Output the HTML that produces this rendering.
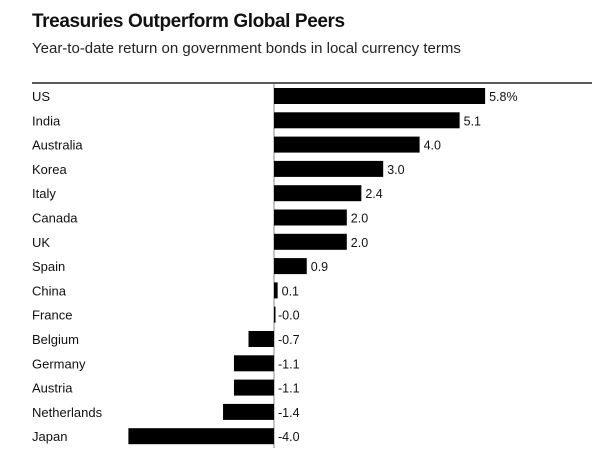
<!DOCTYPE html>
<html><head><meta charset="utf-8"><style>
body{margin:0;background:#fff;width:600px;height:460px;overflow:hidden;font-family:"Liberation Sans",sans-serif;}
</style></head><body>
<svg width="600" height="460" xmlns="http://www.w3.org/2000/svg">
<text x="32" y="27" font-size="19" font-weight="bold" fill="#111" letter-spacing="-0.4">Treasuries Outperform Global Peers</text>
<text x="32" y="53" font-size="15" fill="#222">Year-to-date return on government bonds in local currency terms</text>
<line x1="32" y1="83" x2="592" y2="83" stroke="#222" stroke-width="1.5"/>
<g id="bars"></g>
</svg>
<script>
const categories=["US","India","Australia","Korea","Italy","Canada","UK","Spain","China","France","Belgium","Germany","Austria","Netherlands","Japan"];
const values=[5.8,5.1,4.0,3.0,2.4,2.0,2.0,0.9,0.1,-0.0,-0.7,-1.1,-1.1,-1.4,-4.0];
const labels=["5.8%","5.1","4.0","3.0","2.4","2.0","2.0","0.9","0.1","-0.0","-0.7","-1.1","-1.1","-1.4","-4.0"];
const NS="http://www.w3.org/2000/svg";
const g=document.getElementById('bars');
const x0=274,unit=36.4,yTop=96,step=24.3,bh=16;
const xs=v=>x0+v*unit;
const ys=i=>yTop+i*step;
const ax=document.createElementNS(NS,'line');
ax.setAttribute('x1',x0);ax.setAttribute('x2',x0);ax.setAttribute('y1',84);ax.setAttribute('y2',448);
ax.setAttribute('stroke','#888');ax.setAttribute('stroke-width','1');


g.appendChild(ax);
categories.forEach((c,i)=>{
  const y=ys(i),v=values[i];
  const t=document.createElementNS(NS,'text');
  t.setAttribute('x',32);t.setAttribute('y',y+5);t.setAttribute('font-size','13');t.setAttribute('fill','#111');
  t.textContent=c;
  
  
  g.appendChild(t);
  const r=document.createElementNS(NS,'rect');
  const a=xs(Math.min(0,v)),b=xs(Math.max(0,v));
  r.setAttribute('x',a);r.setAttribute('y',y-bh/2);r.setAttribute('width',Math.max(b-a,1.5));r.setAttribute('height',bh);r.setAttribute('fill','#000');
  
  
  g.appendChild(r);
  const l=document.createElementNS(NS,'text');
  l.setAttribute('x',(v>0?b:x0)+4);l.setAttribute('y',y+5);l.setAttribute('font-size','12.5');l.setAttribute('fill','#111');
  l.textContent=labels[i];
  
  
  g.appendChild(l);
});
</script>
</body></html>
